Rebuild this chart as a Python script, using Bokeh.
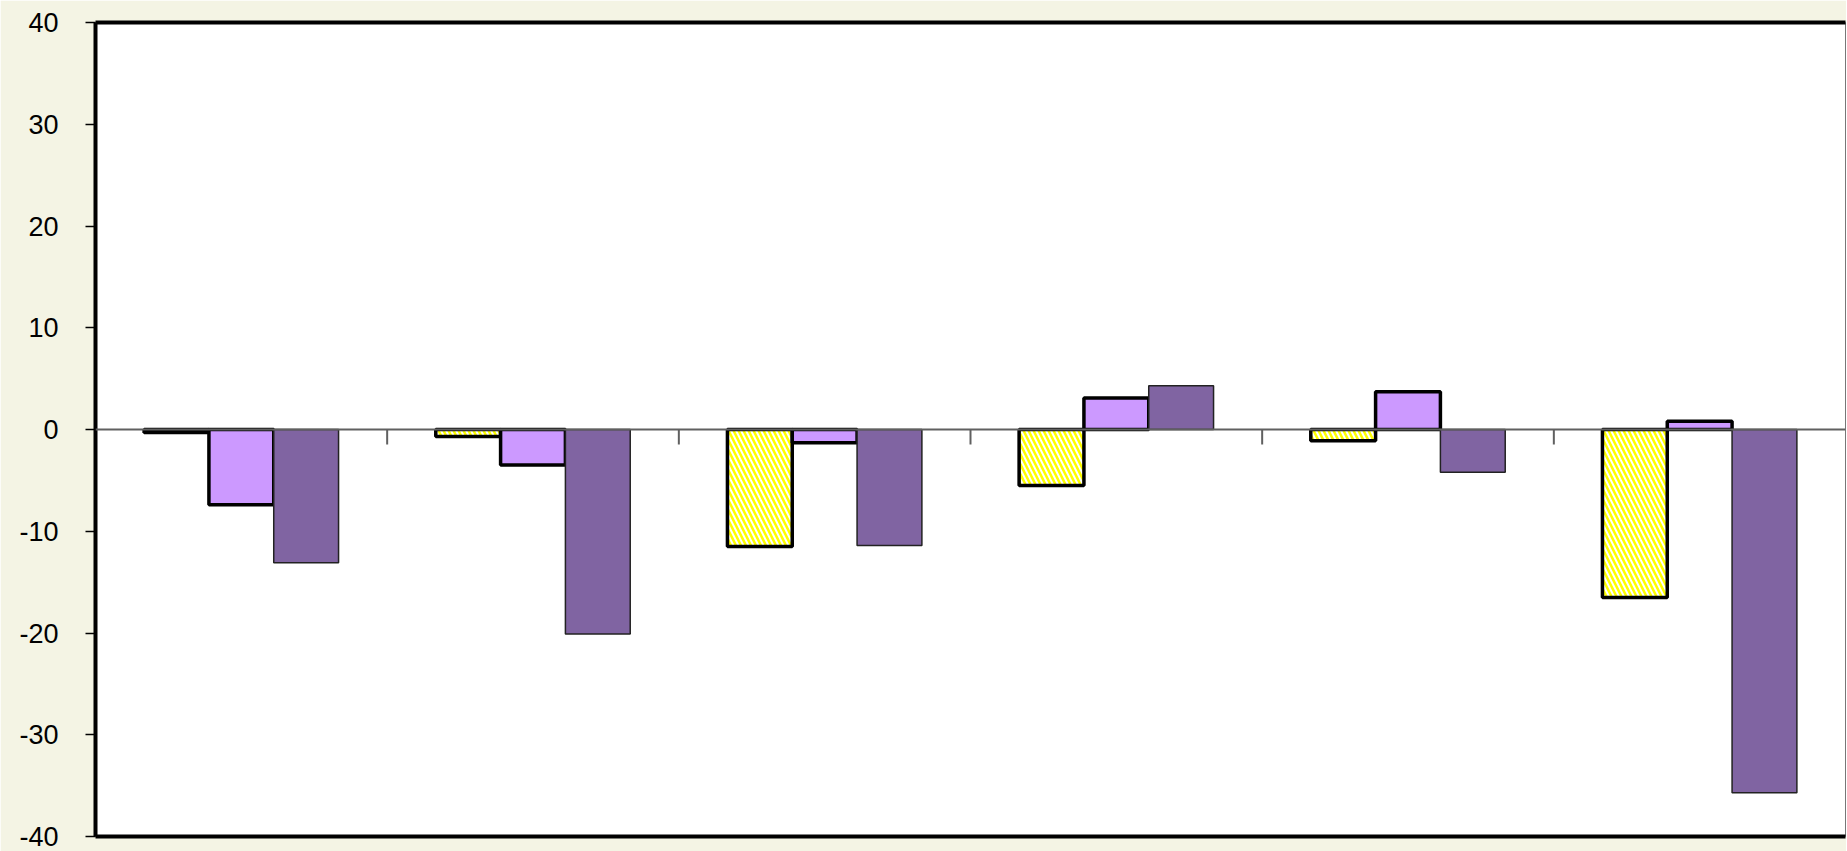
import numpy as np
from bokeh.plotting import figure
from bokeh.models import Range1d, LinearAxis, FixedTicker, Span
from bokeh.embed import file_html
from bokeh.resources import INLINE

categories = ["1", "2", "3", "4", "5", "6"]
series_1 = [-0.3, -0.7, -11.5, -5.5, -1.1, -16.5]
series_2 = [-7.4, -3.5, -1.3, 3.1, 3.7, 0.8]
series_3 = [-13.1, -20.1, -11.4, 4.3, -4.2, -35.7]
y_ticks = [-40, -30, -20, -10, 0, 10, 20, 30, 40]
y_tick_labels = {t: str(t) for t in y_ticks}

n = len(categories)
x = np.arange(1, n + 1)
bw = 1 / 4.5
bg = "#F4F4E4"

p = figure(width=1846, height=851, output_backend="svg", toolbar_location=None,
           x_range=Range1d(0.5, n + 0.5), y_range=Range1d(y_ticks[0], y_ticks[-1]),
           min_border_left=95, min_border_top=22, min_border_bottom=15, min_border_right=1)
p.background_fill_color = "white"
p.border_fill_color = bg
p.outline_line_color = "#777777"
p.outline_line_width = 1
p.xgrid.visible = False
p.ygrid.visible = False

# left axis
p.yaxis.ticker = FixedTicker(ticks=y_ticks)
p.yaxis.major_label_overrides = y_tick_labels
p.yaxis.axis_line_width = 4
p.yaxis.axis_line_color = "black"
p.yaxis.major_tick_out = 10
p.yaxis.major_tick_in = 0
p.yaxis.major_tick_line_width = 1.5
p.yaxis.minor_tick_line_color = None
p.yaxis.major_label_text_font = "Liberation Sans"
p.yaxis.major_label_text_font_size = "27px"
p.yaxis.major_label_text_color = "black"
p.yaxis.major_label_standoff = 27

# bottom axis as frame border
p.xaxis.ticker = FixedTicker(ticks=[])
p.xaxis.axis_line_width = 4
p.xaxis.axis_line_color = "black"
p.xaxis.major_tick_line_color = None
p.xaxis.minor_tick_line_color = None
p.xaxis.major_label_text_font_size = "0px"

top = LinearAxis(ticker=FixedTicker(ticks=[]), axis_line_width=4, axis_line_color="black",
                 major_tick_line_color=None, minor_tick_line_color=None,
                 major_label_text_font_size="0px")
p.add_layout(top, "above")

# bars
p.vbar(x=x - bw, top=series_1, bottom=0, width=bw, fill_color="white",
       hatch_pattern="left_diagonal_line", hatch_color="#FFFF00", hatch_scale=10, hatch_weight=2.5,
       line_color="black", line_width=3.5)
p.vbar(x=x, top=series_2, bottom=0, width=bw, fill_color="#CC99FF",
       line_color="black", line_width=3.5)
p.vbar(x=x + bw, top=series_3, bottom=0, width=bw, fill_color="#8064A2",
       line_color="#222222", line_width=1.5)

# zero axis with category ticks
p.add_layout(Span(location=0, dimension="width", line_color="#606060", line_width=2))
boundaries = x[:-1] + 0.5
p.ray(x=boundaries, y=0, length=15, length_units="screen", angle=-np.pi / 2,
      line_color="#606060", line_width=2)

open("out.html", "w").write(file_html(p, INLINE))
